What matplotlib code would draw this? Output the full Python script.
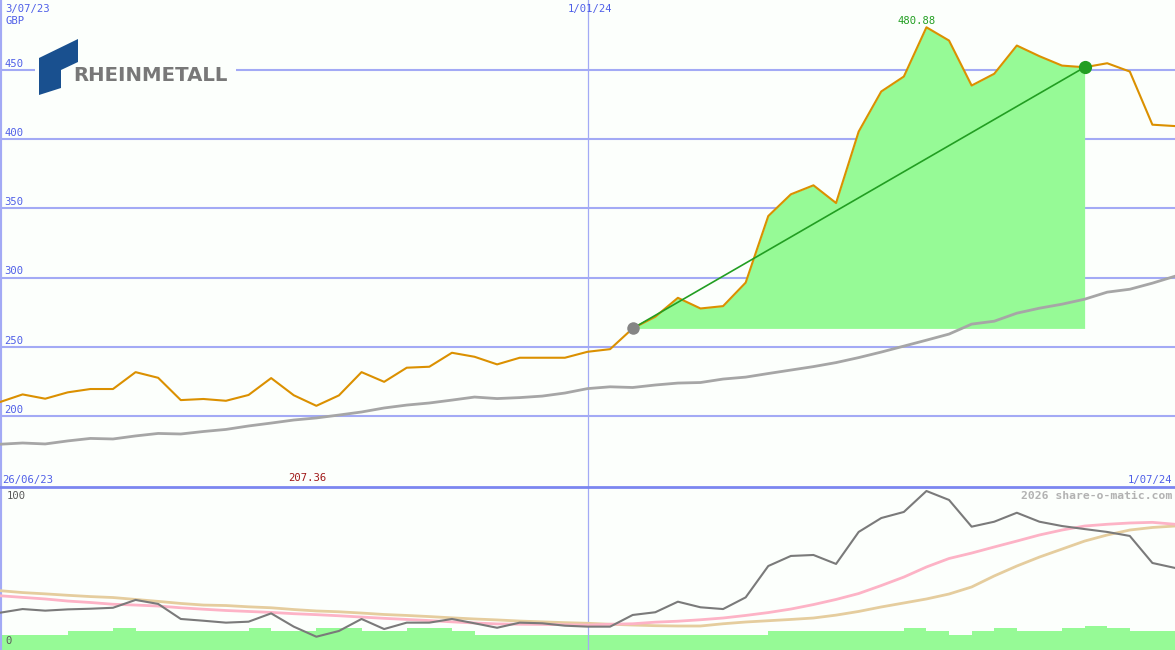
import matplotlib
matplotlib.use("Agg")
import matplotlib.pyplot as plt
from matplotlib.patches import Polygon, Rectangle
from matplotlib.lines import Line2D
import numpy as np

# ---------------- data ----------------
weeks = list(range(53))  # weekly, 3/07/23 .. 1/07/24
price = [210.1, 215.6, 212.5, 217.1, 219.5, 219.5, 231.7, 227.6, 211.5, 212.3,
         211.0, 215.2, 227.4, 215.0, 207.36, 214.9, 231.7, 224.7, 234.9, 235.6,
         245.7, 242.8, 237.3, 242.1, 242.1, 242.1, 246.4, 248.3, 263.3, 271.7,
         285.4, 277.7, 279.4, 296.4, 344.5, 360.2, 366.7, 353.9, 405.5, 434.5,
         445.3, 480.88, 471.3, 438.8, 447.3, 467.7, 460.0, 453.2, 452.0, 454.9,
         448.9, 410.5, 409.5]
ma_long = [179.6, 180.5, 179.8, 182.0, 183.8, 183.4, 185.6, 187.4, 187.0, 188.8,
           190.3, 192.8, 194.9, 197.1, 198.6, 200.7, 202.9, 205.8, 207.9, 209.4,
           211.5, 213.7, 212.6, 213.3, 214.4, 216.6, 219.8, 221.1, 220.6, 222.4,
           223.8, 224.2, 226.7, 228.1, 230.7, 233.2, 235.7, 238.6, 242.2, 246.2,
           250.5, 254.8, 259.2, 266.4, 268.5, 274.3, 277.9, 280.8, 284.4, 289.5,
           291.6, 296.0, 301.0]
osc = [23.3, 25.6, 24.6, 25.4, 25.8, 26.4, 31.3, 28.8, 19.4, 18.3,
       17.1, 17.7, 22.9, 14.6, 8.3, 11.9, 19.4, 13.1, 17.1, 17.1,
       19.4, 16.7, 13.9, 17.1, 16.7, 15.2, 14.6, 14.6, 21.9, 23.6,
       30.2, 26.7, 25.6, 32.9, 52.5, 58.8, 59.4, 53.8, 73.8, 82.5,
       86.3, 99.4, 93.8, 77.1, 80.2, 85.8, 80.2, 77.5, 75.6, 73.8,
       71.3, 54.4, 51.3]
osc_fast = [33.9, 32.9, 31.9, 30.6, 29.7, 28.6, 28.1, 27.5, 26.4, 25.5,
            24.7, 24.1, 23.5, 22.7, 22.1, 21.4, 20.6, 19.8, 19.1, 18.4,
            17.6, 16.9, 16.3, 16.1, 16.0, 15.8, 15.6, 16.1, 16.4, 17.4,
            18.0, 18.9, 20.0, 21.6, 23.4, 25.6, 28.4, 31.6, 35.3, 40.3,
            45.6, 51.9, 57.2, 60.6, 64.4, 68.1, 71.9, 75.0, 77.5, 78.6,
            79.4, 79.8, 78.6]
osc_slow = [37.1, 35.9, 35.1, 34.2, 33.4, 32.8, 31.6, 30.4, 29.1, 28.1,
            27.8, 27.0, 26.4, 25.3, 24.4, 23.9, 23.1, 22.2, 21.6, 20.9,
            20.1, 19.4, 18.8, 18.1, 17.6, 17.1, 16.7, 16.1, 15.6, 15.2,
            15.0, 15.0, 16.4, 17.5, 18.3, 19.1, 20.0, 21.8, 24.1, 26.9,
            29.4, 31.9, 35.0, 39.4, 46.3, 52.5, 58.1, 63.1, 68.1, 71.9,
            75.0, 76.6, 77.5]
volume = [9.4, 9.4, 9.4, 11.9, 11.9, 13.6, 11.9, 11.9, 11.9, 11.9,
          11.9, 13.6, 11.9, 11.9, 13.6, 13.6, 11.9, 11.9, 13.6, 13.6,
          11.9, 9.4, 9.4, 9.4, 9.4, 9.4, 9.4, 9.4, 9.4, 9.4,
          9.4, 9.4, 9.4, 9.4, 11.9, 11.9, 11.9, 11.9, 11.9, 11.9,
          13.6, 11.9, 9.4, 11.9, 13.6, 11.9, 11.9, 13.6, 15.0, 13.6,
          11.9, 11.9, 11.9]
y_ticks = [200, 250, 300, 350, 400, 450]
start_idx, end_idx = 28, 48
max_idx, min_idx = 41, 14
jan_idx = 26

# ---------------- styles ----------------
W, H = 1175, 650
BG = '#FCFFFC'
GRID = '#A3AAF5'
BLUE_TXT = '#4F5FE8'
ORANGE = '#DB9000'
FILLG = '#96FA96'
DKGREEN = '#229E22'
MONO = 'DejaVu Sans Mono'

fig = plt.figure(figsize=(W / 100, H / 100), dpi=100, facecolor=BG)

def fx(x):
    return x / W

def fy(y):
    return 1 - y / H

split = 487
ax1 = fig.add_axes([0, fy(split), 1, split / H])
ax2 = fig.add_axes([0, 0, 1, (H - split) / H])
for ax in (ax1, ax2):
    ax.set_facecolor(BG)
    for s in ax.spines.values():
        s.set_visible(False)
    ax.set_xticks([])
    ax.set_yticks([])
    ax.set_xlim(0, 52)

# ---- upper panel ----
ax1.set_ylim(148.7, 500.6)
for v in y_ticks:
    ax1.axhline(v, color=GRID, lw=1.5, zorder=1)
ax1.axvline(jan_idx, color=GRID, lw=0.9, zorder=1)
ax1.axvline(0, color=GRID, lw=3, zorder=1)

xs = np.array(weeks)
pr = np.array(price)
ax1.fill_between(xs[start_idx:end_idx + 1], pr[start_idx:end_idx + 1], pr[start_idx],
                 color=FILLG, lw=0, zorder=2)
ax1.plot(xs, ma_long, color='#A6A6A6', lw=2.0, zorder=3)
ax1.plot(xs, pr, color=ORANGE, lw=1.5, zorder=4)
ax1.plot([xs[start_idx], xs[end_idx]], [pr[start_idx], pr[end_idx]], color=DKGREEN, lw=1.2, zorder=5)
ax1.plot([xs[start_idx]], [pr[start_idx]], 'o', color='#858585', ms=9, mew=0, zorder=6)
ax1.plot([xs[end_idx]], [pr[end_idx]], 'o', color=DKGREEN, ms=9.5, mew=0, zorder=6)

ax1.text(xs[max_idx] - 0.45, pr[max_idx] + 1.2, f'{price[max_idx]:.2f}', color=DKGREEN,
         fontsize=7.6, family=MONO, ha='center', va='bottom', zorder=7)

for v in y_ticks:
    ax1.text(0.2, v + 0.9, str(v), color=BLUE_TXT, fontsize=7.6, family=MONO,
             ha='left', va='bottom', zorder=7)

# ---- lower panel ----
ax2.set_ylim(0, 101.9)
ax2.bar(xs, volume, width=1.0, align='edge', color=FILLG, lw=0, zorder=1)
ax2.axvline(jan_idx, color=GRID, lw=0.9, zorder=2)
ax2.axvline(0, color=GRID, lw=3, zorder=2)
ax2.plot(xs, osc_slow, color='#E5CD9E', lw=2.0, zorder=3)
ax2.plot(xs, osc_fast, color='#FDB3C6', lw=2.0, zorder=4)
ax2.plot(xs, osc, color='#7A7A7A', lw=1.5, zorder=5)

# separator line
fig.add_artist(Line2D([0, 1], [fy(split), fy(split)], transform=fig.transFigure,
                      color='#7B86F0', lw=2.0, zorder=10))

# ---- texts in pixel positions ----
def ftxt(x, y, s, **kw):
    fig.text(fx(x), fy(y), s, **kw)

ftxt(5, 9, '3/07/23', color=BLUE_TXT, fontsize=7.6, family=MONO, ha='left', va='center')
ftxt(5, 21, 'GBP', color=BLUE_TXT, fontsize=7.6, family=MONO, ha='left', va='center')
ftxt(590, 9, '1/01/24', color=BLUE_TXT, fontsize=7.6, family=MONO, ha='center', va='center')
ftxt(2, 480, '26/06/23', color=BLUE_TXT, fontsize=7.6, family=MONO, ha='left', va='center')
ftxt(1172, 480, '1/07/24', color=BLUE_TXT, fontsize=7.6, family=MONO, ha='right', va='center')
ax1.text(xs[min_idx] - 0.4, 151.5, f'{price[min_idx]:.2f}', color='#A01818', fontsize=7.6,
         family=MONO, ha='center', va='bottom', zorder=7)
ftxt(1172, 496, '2026 share-o-matic.com', color='#B2B2B2', fontsize=8.2, family=MONO,
     weight='bold', ha='right', va='center')
ftxt(7, 496, '100', color='#5A5A5A', fontsize=7.6, family=MONO, ha='left', va='center')
ftxt(5, 641, '0', color='#5A5A5A', fontsize=7.6, family=MONO, ha='left', va='center')

# ---- logo ----
fig.add_artist(Rectangle((fx(35), fy(100)), fx(236) - fx(35), fy(36) - fy(100),
                         transform=fig.transFigure, facecolor=BG, edgecolor='none', zorder=11))
logo_pts = [(39, 58), (78, 39), (78, 62), (61, 70), (61, 88), (39, 95)]
fig.add_artist(Polygon([(fx(a), fy(b)) for a, b in logo_pts], closed=True,
                       transform=fig.transFigure, facecolor='#19508F', edgecolor='none', zorder=12))
fig.text(fx(73), fy(75.5), 'RHEINMETALL', color='#787878', fontsize=14.2, family='DejaVu Sans',
         weight='bold', ha='left', va='center', zorder=13)

fig.savefig('out.png', dpi=100, facecolor=BG)
